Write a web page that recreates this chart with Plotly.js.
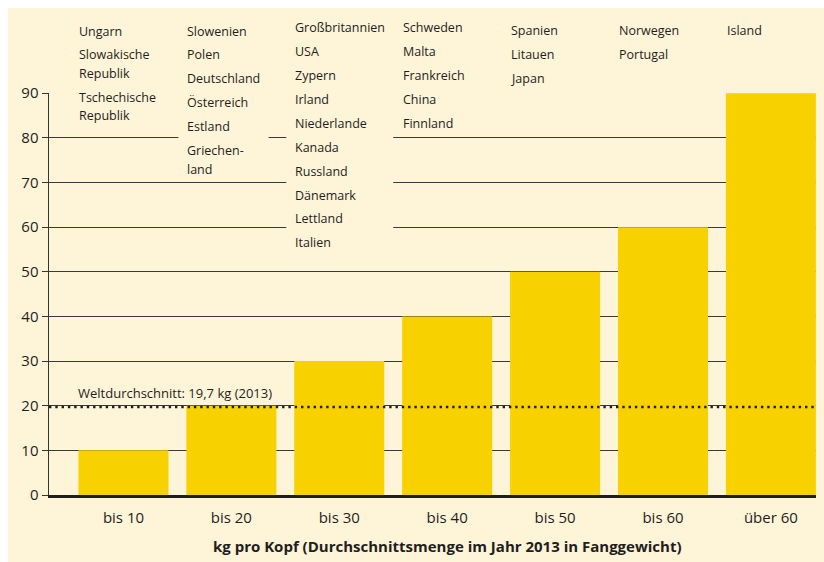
<!DOCTYPE html>
<html><head><meta charset="utf-8">
<script src="https://cdn.plot.ly/plotly-3.0.1.min.js"></script>
<style>
html,body{margin:0;padding:0;background:#fff;overflow:hidden}
#chart{position:absolute;left:8px;top:8px;width:816px;height:554px}
</style>
</head><body><div id="chart"></div>
<script>
// ---- data ----
const categories = ['bis 10', 'bis 20', 'bis 30', 'bis 40', 'bis 50', 'bis 60', 'über 60'];
const values = [10, 20, 30, 40, 50, 60, 90];
const countriesBis10 = ['Ungarn', 'Slowakische<br>Republik', 'Tschechische<br>Republik'];
const countriesBis20 = ['Slowenien', 'Polen', 'Deutschland', 'Österreich', 'Estland', 'Griechen-<br>land'];
const countriesBis30 = ['Großbritannien', 'USA', 'Zypern', 'Irland', 'Niederlande', 'Kanada', 'Russland', 'Dänemark', 'Lettland', 'Italien'];
const countriesBis40 = ['Schweden', 'Malta', 'Frankreich', 'China', 'Finnland'];
const countriesBis50 = ['Spanien', 'Litauen', 'Japan'];
const countriesBis60 = ['Norwegen', 'Portugal'];
const countriesUeber60 = ['Island'];
const worldAverage = 19.7;
const worldAverageLabel = 'Weltdurchschnitt: 19,7 kg (2013)';
const xAxisTitle = 'kg pro Kopf (Durchschnittsmenge im Jahr 2013 in Fanggewicht)';
const yTickValues = [0, 10, 20, 30, 40, 50, 60, 70, 80, 90];

// ---- style / layout ----
const cream = '#fef4d7';
const yellow = '#f7d100';
const ink = '#1e1e1e';
const font = '"Open Sans", sans-serif';
const textWeight = 500;
const labelSize = 12.5;
const bargap = 0.166;
const halfBar = (1 - bargap) / 2;
const plotTopPage = 93;           // page y of plot top
const columnTop = [31, 31, 27.7, 27.7, 30.7, 30.7, 30.7];
const entryStep = 23.9, lineStep = 18.5;

const columns = [countriesBis10, countriesBis20, countriesBis30, countriesBis40, countriesBis50, countriesBis60, countriesUeber60];

const cv = document.createElement('canvas').getContext('2d');
cv.font = textWeight + ' ' + labelSize + 'px "Open Sans"';

const annotations = [];
const shapes = [];

columns.forEach((list, i) => {
  let c = columnTop[i];
  let first = c, last = c, maxW = 0;
  list.forEach((entry, k) => {
    const lines = entry.split('<br>');
    lines.forEach((ln, j) => {
      annotations.push({
        xref: 'x', yref: 'paper', x: i - halfBar, y: 1,
        xanchor: 'left', yanchor: 'middle', yshift: plotTopPage - c,
        text: ln, showarrow: false, borderpad: 0,
        font: {family: font, size: labelSize, color: ink, weight: textWeight}
      });
      maxW = Math.max(maxW, cv.measureText(ln).width);
      last = c;
      if (j < lines.length - 1) c += lineStep;
    });
    if (k < list.length - 1) c += entryStep;
  });
  // cream mask interrupting the grid lines behind the text block
  shapes.push({
    type: 'rect', layer: 'above',
    xref: 'x', xsizemode: 'pixel', xanchor: i - halfBar, x0: -8, x1: maxW + 9,
    yref: 'paper', ysizemode: 'pixel', yanchor: 1,
    y0: plotTopPage - (first - 12), y1: plotTopPage - (last + 9),
    fillcolor: cream, opacity: 1, line: {width: 0}
  });
});

shapes.push({
  type: 'line', layer: 'above', xref: 'paper', x0: 0, x1: 1,
  yref: 'y', y0: worldAverage, y1: worldAverage,
  line: {color: ink, width: 2.4, dash: '2.4px,3.9px'}
});

annotations.push({
  xref: 'paper', yref: 'y', x: 0, y: worldAverage, xanchor: 'left', yanchor: 'middle',
  xshift: 28, yshift: 14, text: worldAverageLabel, showarrow: false, borderpad: 0,
  font: {family: font, size: 13, color: ink, weight: textWeight}
});
annotations.push({
  xref: 'x', yref: 'paper', x: 3, y: 0, xanchor: 'center', yanchor: 'middle',
  yshift: -51, text: '<b>' + xAxisTitle + '</b>', showarrow: false,
  font: {family: font, size: 15, color: ink}
});

const trace = {
  type: 'bar', x: categories, y: values,
  marker: {color: yellow, line: {width: 0}},
  hoverinfo: 'none'
};

const layout = {
  width: 816, height: 554,
  margin: {l: 41, r: 8, t: 85, b: 67},
  paper_bgcolor: cream, plot_bgcolor: cream,
  bargap: bargap, showlegend: false,
  font: {family: font, color: ink},
  xaxis: {
    type: 'category', range: [-0.69, 6.418], showgrid: false, zeroline: false,
    showline: true, linecolor: ink, linewidth: 3, ticks: '', ticklabelstandoff: 7,
    tickfont: {family: font, size: 15, color: ink, weight: textWeight}, fixedrange: true
  },
  yaxis: {
    range: [0, 90.05], tickvals: yTickValues, showgrid: true, gridcolor: '#3a3a3a', gridwidth: 1,
    zeroline: false, showline: true, linecolor: '#333', linewidth: 1.5,
    ticks: 'outside', ticklen: 6, tickcolor: '#333', tickwidth: 1,
    tickfont: {family: font, size: 15, color: ink, weight: textWeight}, fixedrange: true
  },
  shapes: shapes,
  annotations: annotations
};

Plotly.newPlot('chart', [trace], layout, {displayModeBar: false, staticPlot: true});
</script>
</body></html>
